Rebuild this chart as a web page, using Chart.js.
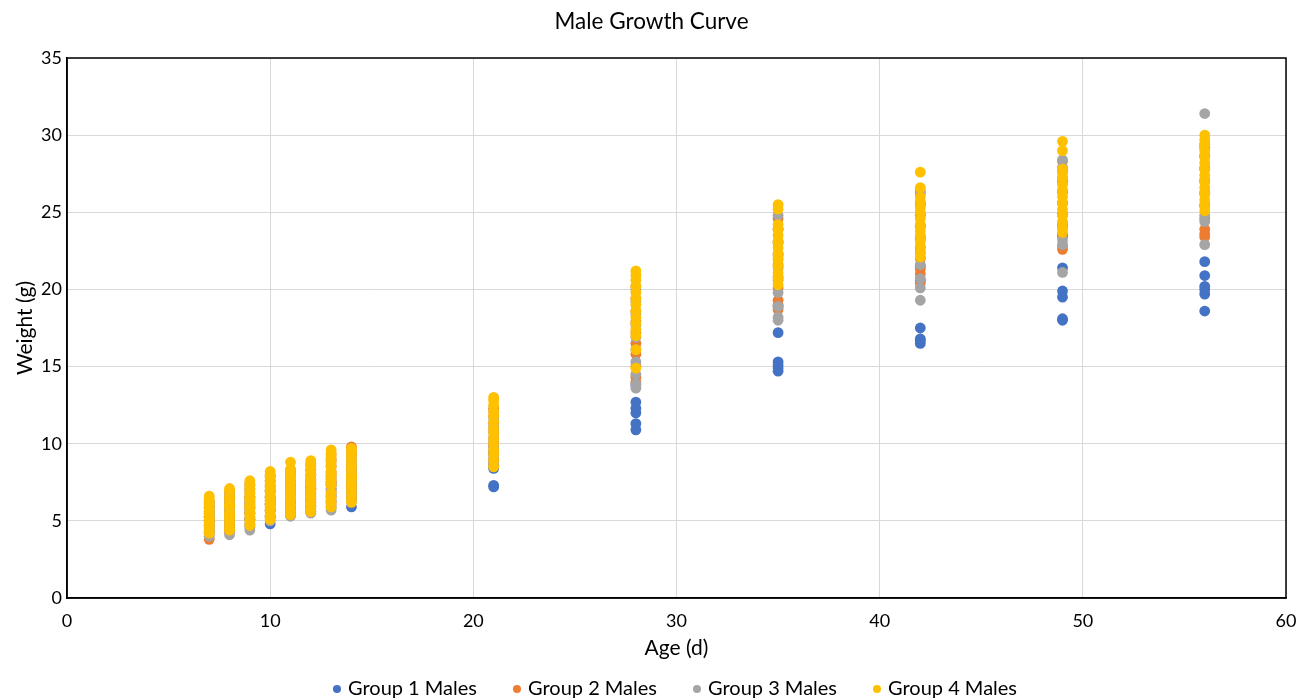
<!DOCTYPE html>
<html>
<head>
<meta charset="utf-8">
<script src="https://cdn.jsdelivr.net/npm/chart.js@4.4.0/dist/chart.umd.min.js"></script>
<style>
  html, body { margin: 0; padding: 0; background: #fff; }
  #wrap { width: 1307px; height: 698px; position: relative; }
</style>
</head>
<body>
<div id="wrap"><canvas id="c" width="1307" height="698"></canvas></div>
<script>
// Age (days) at which each group was weighed
const ages = [7, 8, 9, 10, 11, 12, 13, 14, 21, 28, 35, 42, 49, 56];

// Weights (g), one inner list per age
const group1Males = [
  [4.3, 4.7, 5.0, 5.3, 5.6, 5.9],
  [4.6, 5.0, 5.3, 5.6, 5.9, 6.2],
  [4.6, 5.1, 5.5, 5.8, 6.2, 6.5],
  [4.8, 5.3, 5.7, 6.1, 6.5, 6.9],
  [5.4, 5.8, 6.2, 6.6, 7.0, 7.3],
  [5.6, 6.0, 6.4, 6.8, 7.2, 7.6],
  [5.9, 6.3, 6.7, 7.1, 7.5, 7.9],
  [5.9, 6.5, 7.0, 7.5, 7.9, 8.3],
  [7.2, 7.3, 8.4, 8.6, 8.9, 9.3],
  [10.9, 11.3, 12.0, 12.3, 12.7, 13.8],
  [14.7, 14.9, 15.1, 15.3, 17.2, 18.9],
  [16.5, 16.7, 16.8, 17.5, 20.6, 21.5],
  [18.0, 18.1, 19.5, 19.9, 21.4, 23.5],
  [18.6, 19.7, 20.0, 20.2, 20.9, 21.8]
];
const group2Males = [
  [3.8, 4.2, 4.6, 4.9, 5.2, 5.5, 5.8, 6.1, 6.3, 5.0],
  [4.3, 4.7, 5.0, 5.4, 5.7, 6.0, 6.3, 6.6, 6.9, 5.2],
  [4.8, 5.1, 5.5, 5.8, 6.1, 6.5, 6.8, 7.1, 7.4, 5.9],
  [5.2, 5.6, 5.9, 6.3, 6.6, 7.0, 7.3, 7.6, 7.9, 6.1],
  [5.5, 5.9, 6.3, 6.6, 7.0, 7.3, 7.6, 8.0, 8.3, 6.8],
  [5.8, 6.2, 6.6, 7.0, 7.3, 7.7, 8.0, 8.3, 8.7, 7.1],
  [6.1, 6.5, 6.9, 7.3, 7.7, 8.1, 8.5, 8.9, 9.3, 7.5],
  [6.4, 6.8, 7.3, 7.7, 8.1, 8.5, 8.9, 9.3, 9.8, 7.9],
  [8.6, 9.0, 9.5, 10.0, 10.4, 10.9, 11.3, 11.8, 12.3, 9.8],
  [14.0, 14.3, 15.0, 15.8, 16.5, 17.2, 17.9, 18.6, 19.4, 20.2],
  [18.7, 19.0, 19.3, 20.1, 20.8, 21.6, 22.3, 23.1, 23.9, 24.6],
  [20.4, 21.0, 21.3, 22.0, 22.7, 23.4, 24.1, 24.8, 25.5, 26.2],
  [22.6, 22.8, 23.5, 24.2, 24.9, 25.6, 26.3, 27.0, 27.7, 28.3],
  [23.4, 23.6, 23.9, 24.6, 25.4, 26.2, 27.0, 27.8, 28.6, 29.2]
];
const group3Males = [
  [4.0, 4.3, 4.7, 5.0, 5.3, 5.6, 5.9, 6.2, 4.5, 5.5],
  [4.1, 4.5, 4.9, 5.2, 5.6, 5.9, 6.2, 6.5, 6.8, 5.4],
  [4.4, 4.8, 5.2, 5.6, 5.9, 6.3, 6.6, 7.0, 7.3, 6.0],
  [5.0, 5.3, 5.7, 6.1, 6.5, 6.9, 7.2, 7.6, 7.9, 6.3],
  [5.3, 5.7, 6.1, 6.5, 6.9, 7.3, 7.6, 8.0, 8.2, 6.7],
  [5.5, 5.9, 6.3, 6.7, 7.1, 7.5, 7.9, 8.3, 8.6, 7.0],
  [5.7, 6.2, 6.6, 7.0, 7.4, 7.8, 8.2, 8.6, 9.0, 7.3],
  [6.3, 6.7, 7.1, 7.5, 7.9, 8.3, 8.7, 9.1, 9.5, 8.1],
  [8.6, 8.9, 9.3, 9.8, 10.2, 10.7, 11.1, 11.6, 12.1, 9.5],
  [13.6, 13.9, 14.5, 15.3, 16.1, 16.9, 17.7, 18.4, 19.2, 20.0],
  [18.0, 18.2, 18.9, 19.8, 20.6, 21.4, 22.2, 23.0, 23.9, 24.8],
  [19.3, 20.1, 20.7, 21.6, 22.4, 23.3, 24.1, 24.9, 25.6, 26.4],
  [21.1, 22.9, 23.2, 24.0, 24.8, 25.6, 26.4, 27.2, 27.9, 28.4],
  [22.9, 24.4, 24.8, 25.5, 26.3, 27.1, 27.9, 28.7, 29.4, 31.4]
];
const group4Males = [
  [4.2, 4.4, 4.6, 4.8, 5.0, 5.2, 5.4, 5.6, 5.8, 6.0, 6.2, 6.4, 6.6, 5.1],
  [4.4, 4.6, 4.9, 5.1, 5.4, 5.6, 5.9, 6.1, 6.4, 6.6, 6.9, 7.1, 5.3, 6.0],
  [4.7, 5.0, 5.3, 5.5, 5.8, 6.0, 6.3, 6.6, 6.8, 7.1, 7.3, 7.6, 5.9, 6.4],
  [5.1, 5.4, 5.7, 6.0, 6.3, 6.6, 6.9, 7.2, 7.5, 7.8, 8.0, 8.2, 6.1, 7.0],
  [5.4, 5.7, 6.0, 6.3, 6.6, 6.9, 7.2, 7.5, 7.8, 8.0, 8.3, 8.8, 6.5, 7.1],
  [5.6, 5.9, 6.2, 6.5, 6.8, 7.1, 7.4, 7.7, 8.0, 8.3, 8.6, 8.9, 6.9, 7.5],
  [5.9, 6.2, 6.5, 6.8, 7.3, 7.6, 7.9, 8.2, 8.5, 8.8, 9.1, 9.4, 9.6, 8.0],
  [6.2, 6.5, 6.8, 7.1, 7.4, 7.7, 8.0, 8.3, 8.6, 8.9, 9.2, 9.5, 9.7, 7.9],
  [8.5, 8.9, 9.3, 9.6, 10.0, 10.3, 10.7, 11.0, 11.4, 11.8, 12.1, 12.5, 12.8, 13.0],
  [14.9, 16.1, 17.0, 17.4, 17.8, 18.2, 18.6, 19.0, 19.4, 19.8, 20.2, 20.6, 20.9, 21.2],
  [20.3, 20.7, 21.1, 21.5, 21.9, 22.3, 22.7, 23.1, 23.5, 23.9, 24.2, 25.2, 25.5, 22.0],
  [22.1, 22.4, 22.8, 23.1, 23.5, 23.8, 24.2, 24.6, 25.0, 25.3, 25.7, 26.0, 26.6, 27.6],
  [23.7, 24.0, 24.4, 24.8, 25.2, 25.6, 26.0, 26.4, 26.8, 27.2, 27.5, 27.8, 29.0, 29.6],
  [25.1, 25.4, 25.8, 26.2, 26.6, 27.0, 27.4, 27.8, 28.2, 28.6, 29.0, 29.4, 29.7, 30.0]
];

const seriesNames = ['Group 1 Males', 'Group 2 Males', 'Group 3 Males', 'Group 4 Males'];
const seriesColors = ['#4472C4', '#ED7D31', '#A5A5A5', '#FFC000'];
const xTickValues = [0, 10, 20, 30, 40, 50, 60];
const yTickValues = [0, 5, 10, 15, 20, 25, 30, 35];

function toPoints(weights) {
  const pts = [];
  weights.forEach((list, i) => list.forEach(w => pts.push({ x: ages[i], y: w })));
  return pts;
}

const allGroups = [group1Males, group2Males, group3Males, group4Males];
const datasets = allGroups.map((g, i) => ({
  label: seriesNames[i],
  data: toPoints(g),
  backgroundColor: seriesColors[i],
  borderColor: seriesColors[i],
  borderWidth: 0,
  pointRadius: 5.4,
  pointHoverRadius: 5.4,
  pointStyle: 'circle',
  order: allGroups.length - 1 - i   // later groups drawn on top
}));

const frame = {
  id: 'frame',
  beforeDatasetsDraw(chart) {
    const a = chart.chartArea, ctx = chart.ctx;
    ctx.save();
    ctx.strokeStyle = '#000';
    ctx.lineWidth = 1.5;
    ctx.strokeRect(a.left, a.top, a.right - a.left, a.bottom - a.top);
    ctx.restore();
  }
};

const FONT = 'Lato, "Open Sans", sans-serif';

new Chart(document.getElementById('c'), {
  type: 'scatter',
  data: { datasets },
  plugins: [frame],
  options: {
    responsive: false,
    animation: false,
    devicePixelRatio: 1,
    layout: { padding: { left: 17, right: 21, top: 0, bottom: -11 } },
    plugins: {
      title: {
        display: true,
        text: 'Male Growth Curve',
        color: '#000',
        font: { family: FONT, size: 22.5, weight: 'normal' },
        padding: { top: 8.5, bottom: 22.5 }
      },
      legend: {
        position: 'bottom',
        fullSize: false,
        labels: {
          usePointStyle: true,
          pointStyle: 'circle',
          boxWidth: 2,
          boxHeight: 5.7,
          padding: 39,
          color: '#000',
          font: { family: FONT, size: 20 },
          sort: (a, b) => a.datasetIndex - b.datasetIndex
        }
      },
      tooltip: { enabled: false }
    },
    scales: {
      x: {
        type: 'linear',
        min: 0, max: 60,
        afterBuildTicks: s => { s.ticks = xTickValues.map(v => ({ value: v })); },
        afterFit: s => { s.height = 42; s.paddingLeft = 0; s.paddingRight = 0; },
        grid: { color: '#d9d9d9', lineWidth: 1, drawTicks: false },
        border: { display: true, color: '#000', width: 1.5 },
        ticks: { color: '#000', padding: 12, font: { family: FONT, size: 18 } },
        title: {
          display: true, text: 'Age (d)', color: '#000',
          font: { family: FONT, size: 21 },
          padding: { top: 0, bottom: -20.6 }
        }
      },
      y: {
        type: 'linear',
        min: 0, max: 35,
        afterBuildTicks: s => { s.ticks = yTickValues.map(v => ({ value: v })); },
        afterFit: s => { s.width = 50; },
        grid: { color: '#d9d9d9', lineWidth: 1, drawTicks: false },
        border: { display: true, color: '#000', width: 1.5 },
        ticks: { color: '#000', padding: 5, font: { family: FONT, size: 18 } },
        title: {
          display: true, text: 'Weight (g)', color: '#000',
          font: { family: FONT, size: 21 },
          padding: { top: -4.6, bottom: 0 }
        }
      }
    }
  }
});
</script>
</body>
</html>
